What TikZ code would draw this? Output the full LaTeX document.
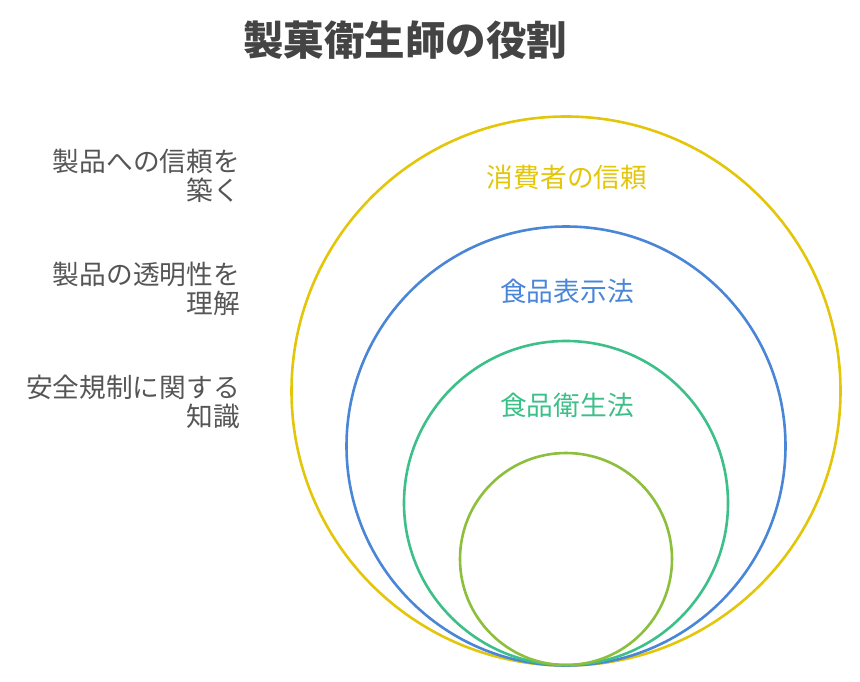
\documentclass[tikz,border=0pt]{standalone}
\usepackage{fontspec}
\setmainfont{Noto Sans CJK JP}
\newfontfamily\cjk{Noto Sans CJK JP}
\definecolor{cyellow}{HTML}{E3C60A}
\definecolor{cblue}{HTML}{4A86D8}
\definecolor{cgreen}{HTML}{3CBF88}
\definecolor{clime}{HTML}{8CBF3C}
\definecolor{ctext}{HTML}{555555}
\definecolor{ctitle}{HTML}{444444}
\tikzset{
  ring/.style={line width=2.6pt},
  lefttext/.style={anchor=east, align=right, text=ctext, font=\cjk\fontsize{26.7}{29.5}\selectfont, inner sep=0pt},
  ringlabel/.style={anchor=center, font=\cjk\fontsize{26.7}{30}\selectfont, inner sep=0pt},
}
\begin{document}
\begin{tikzpicture}[x=1pt,y=-1pt]
\useasboundingbox (0,0) rectangle (860,682);
\node[font=\cjk\bfseries\fontsize{40.5}{46}\selectfont, text=ctitle] (title) at (405,40) {製菓衛生師の役割};
\draw[ring, cyellow] (566,391) circle (274.5);
\draw[ring, cblue] (566,446) circle (219.5);
\draw[ring, cgreen] (566,503) circle (162);
\draw[ring, clime] (566,559) circle (106);
\node[ringlabel, text=cyellow] (l1) at (567,177) {消費者の信頼};
\node[ringlabel, text=cblue] (l2) at (567,291) {食品表示法};
\node[ringlabel, text=cgreen] (l3) at (567,405) {食品衛生法};
\node[lefttext] (t1) at (240,176) {製品への信頼を\\築く};
\node[lefttext] (t2) at (240,289) {製品の透明性を\\理解};
\node[lefttext] (t3) at (240,402) {安全規制に関する\\知識};
\end{tikzpicture}
\end{document}
